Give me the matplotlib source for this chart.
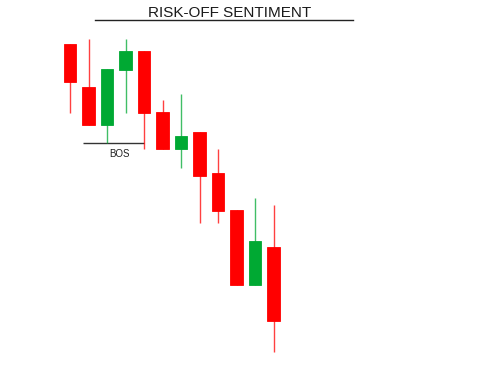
import matplotlib
matplotlib.use("Agg")
import matplotlib.pyplot as plt
from matplotlib.lines import Line2D

plt.rcParams['font.family'] = ['Liberation Sans', 'DejaVu Sans']

# OHLC data (arbitrary price units)
opens  = [325, 282, 244, 299, 318, 257, 220, 237, 196, 159, 84, 122]
highs  = [325, 330, 300, 330, 318, 269, 275, 237, 220, 159, 171, 164]
lows   = [256, 244, 226, 256, 220, 220, 201, 146, 146, 84, 84, 17]
closes = [287, 244, 300, 318, 256, 220, 233, 193, 158, 84, 128, 48]

title = "RISK-OFF SENTIMENT"
bos_label = "BOS"
bos_level = 226
bos_start, bos_end = 0.7, 4.0

up_color = '#00A933'
down_color = '#FF0000'

fig = plt.figure(figsize=(4.81, 3.69), dpi=100)
ax = fig.add_axes([0, 0, 1, 1])
ax.set_xlim(-70 / 18.5, (481 - 70) / 18.5)
ax.set_ylim(0, 369)
ax.axis('off')

width = 0.7
for i, (o, h, l, c) in enumerate(zip(opens, highs, lows, closes)):
    col = up_color if c >= o else down_color
    ax.vlines(i, l, h, color=col, linewidth=1.0, alpha=0.75, zorder=1)
    bottom = min(o, c)
    ax.bar(i, abs(c - o), width=width, bottom=bottom, color=col,
           edgecolor=col, linewidth=0.6, zorder=2)

ax.hlines(bos_level, bos_start, bos_end, color='#333333', linewidth=1.0, zorder=0)
ax.text(2.65, 215, bos_label, ha='center', va='center', fontsize=7, color='#222222')

fig.text(230 / 481, 1 - 13 / 369, title, ha='center', va='center',
         fontsize=11, color='#1a1a1a')
fig.add_artist(Line2D([95 / 481, 353 / 481], [1 - 20 / 369, 1 - 20 / 369],
                      color='#222222', linewidth=1.0, transform=fig.transFigure))

fig.savefig('out.png', dpi=100)
